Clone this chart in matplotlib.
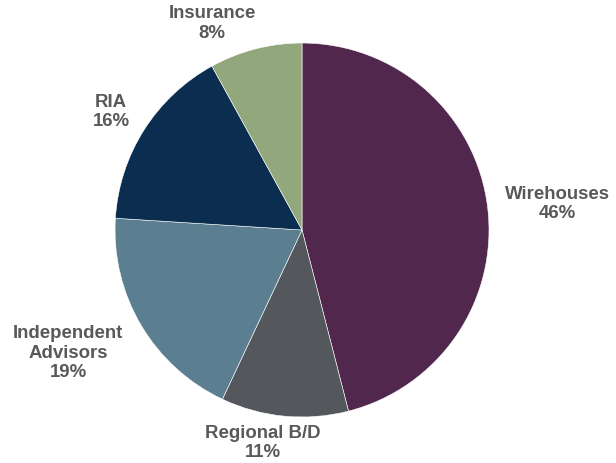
import matplotlib.pyplot as plt

plt.rcParams['font.family'] = ['Liberation Sans', 'DejaVu Sans']

channels = ["Wirehouses", "Regional B/D", "Independent\nAdvisors", "RIA", "Insurance"]
shares = [46, 11, 19, 16, 8]
colors = ["#52274D", "#54585C", "#5C7E91", "#0A2D50", "#93A77D"]

# label anchor points, in pie-radius units
label_xy = [(1.364, 0.139), (-0.209, -1.139), (-1.251, -0.658), (-1.021, 0.631), (-0.481, 1.104)]

fig = plt.figure(figsize=(6.16, 4.63), dpi=100)
ax = fig.add_axes([0, 0, 1, 1])

ax.pie(shares, colors=colors, startangle=90, counterclock=False, radius=1.0,
       wedgeprops=dict(edgecolor="white", linewidth=0.4))

for name, pct, (x, y) in zip(channels, shares, label_xy):
    ax.text(x, y, f"{name}\n{pct}%", ha="center", va="center", fontsize=13.4,
            fontweight="bold", color="#595959", linespacing=1.22)

ax.set_xlim(-1.615, 1.679)
ax.set_ylim(-1.246, 1.230)
ax.axis("off")

fig.savefig("out.png", dpi=100)
